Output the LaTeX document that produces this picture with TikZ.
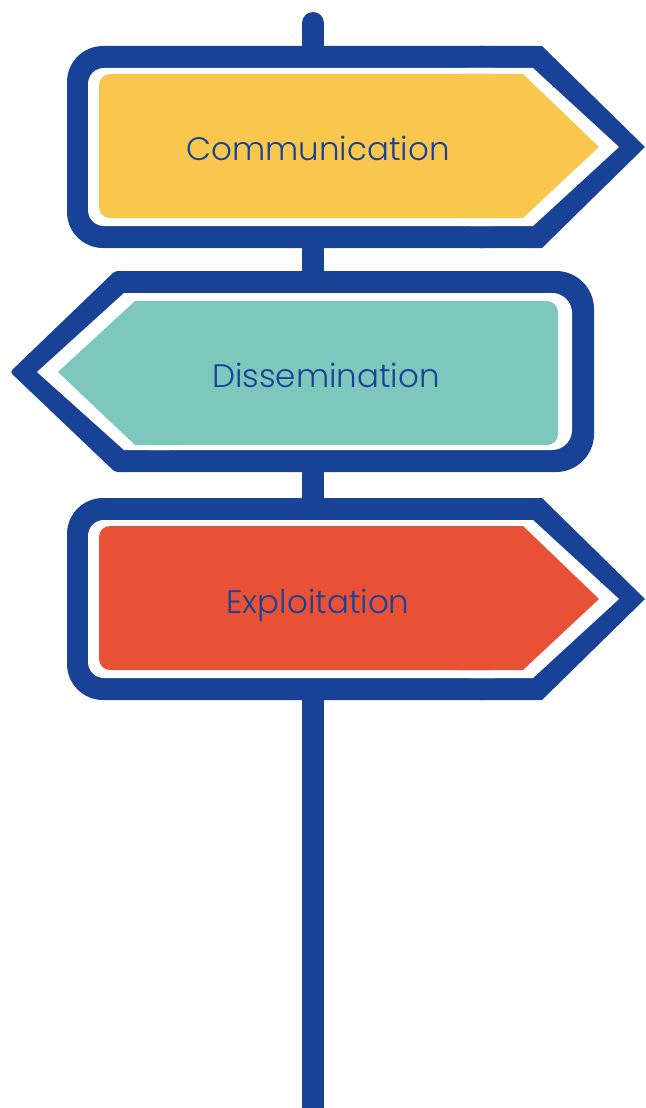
\documentclass[tikz,border=0pt]{standalone}
\usepackage{fontspec}
\setmainfont{Poppins}[UprightFont=* Light]
\definecolor{signblue}{RGB}{24,66,150}
\definecolor{signyellow}{RGB}{250,199,78}
\definecolor{signteal}{RGB}{125,199,188}
\definecolor{signred}{RGB}{233,81,55}
\tikzset{
  signtext/.style={anchor=base, text=signblue, font=\fontsize{32.5}{38}\selectfont, inner sep=0pt},
}
\begin{document}
\begin{tikzpicture}[x=1pt,y=-1pt]
\clip (0,0) rectangle (645,1108);
\fill[white] (0,0) rectangle (645,1108);
% pole
\draw[signblue, line width=22pt, line cap=round] (313,23) -- (313,1130);
% sign 1 (right pointing)
\begin{scope}
  \fill[signblue, rounded corners=36pt] (67,46) rectangle (520,248);
  \fill[signblue] (480,46) -- (542,46) -- (645,147) -- (542,248) -- (480,248) -- cycle;
  \fill[white, rounded corners=16pt] (88,68) rectangle (510,226);
  \fill[white] (470,68) -- (533,68) -- (619,147) -- (533,226) -- (470,226) -- cycle;
  \fill[signyellow, rounded corners=11pt] (99,74) rectangle (500,218);
  \fill[signyellow] (460,74) -- (523,74) -- (599,147) -- (523,218) -- (460,218) -- cycle;
\end{scope}
\node[signtext] (comm) at (318,160) {Communication};
% sign 2 (left pointing)
\fill[signblue, rounded corners=38pt] (120,271) rectangle (594,472);
\fill[signblue, rounded corners=3pt] (10,372) -- (115,271) -- (160,271) -- (160,472) -- (115,472) -- cycle;
\fill[white, rounded corners=20pt] (129,293) rectangle (572,450);
\fill[white] (37,372) -- (124,293) -- (170,293) -- (170,450) -- (124,450) -- cycle;
\fill[signteal, rounded corners=11pt] (140,301) rectangle (558,445);
\fill[signteal] (58,372) -- (135,301) -- (180,301) -- (180,445) -- (135,445) -- cycle;
\node[signtext] (diss) at (326,387) {Dissemination};
% sign 3 (right pointing)
\begin{scope}[yshift=-452pt]
  \fill[signblue, rounded corners=36pt] (67,46) rectangle (520,248);
  \fill[signblue] (480,46) -- (542,46) -- (645,147) -- (542,248) -- (480,248) -- cycle;
  \fill[white, rounded corners=16pt] (88,68) rectangle (510,226);
  \fill[white] (470,68) -- (533,68) -- (619,147) -- (533,226) -- (470,226) -- cycle;
  \fill[signred, rounded corners=11pt] (99,74) rectangle (500,218);
  \fill[signred] (460,74) -- (523,74) -- (599,147) -- (523,218) -- (460,218) -- cycle;
\end{scope}
\node[signtext] (expl) at (318,613) {Exploitation};
\end{tikzpicture}
\end{document}
